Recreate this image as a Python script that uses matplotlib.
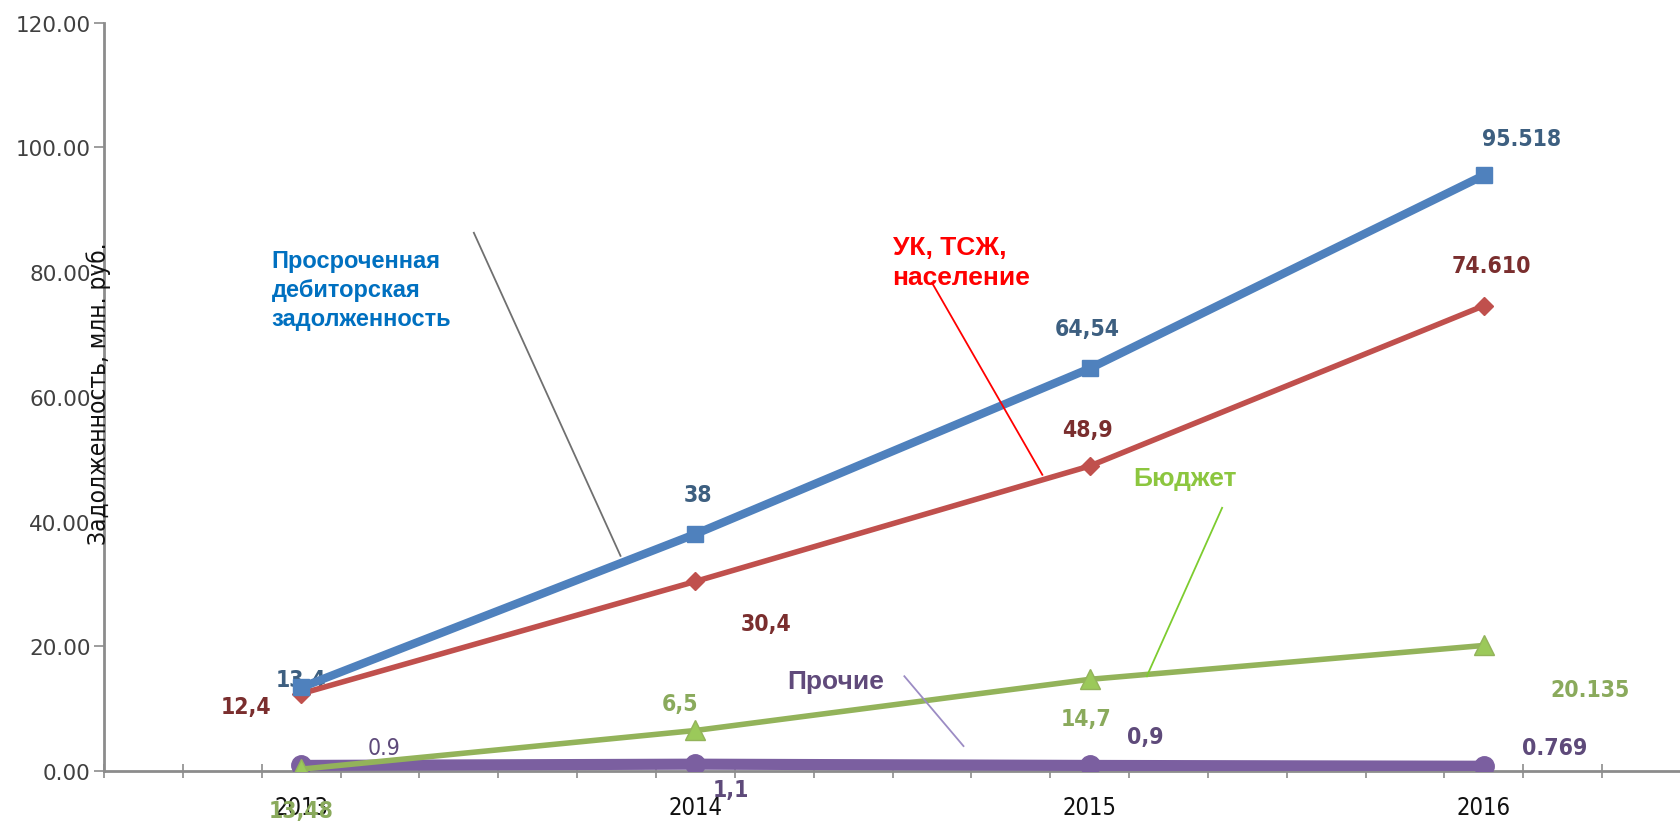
import matplotlib
matplotlib.use("Agg")
import matplotlib.pyplot as plt
from matplotlib import font_manager
import numpy as np

years = [2013, 2014, 2015, 2016]
overdue = [13.4, 38, 64.54, 95.518]      # Просроченная дебиторская задолженность
uk_tszh = [12.4, 30.4, 48.9, 74.610]     # УК, ТСЖ, население
budget = [0.3, 6.5, 14.7, 20.135]        # Бюджет
other = [0.9, 1.1, 0.9, 0.769]           # Прочие

overdue_lbl = ["13,4", "38", "64,54", "95.518"]
uk_lbl = ["12,4", "30,4", "48,9", "74.610"]
budget_lbl = ["13,48", "6,5", "14,7", "20.135"]
other_lbl = ["0.9", "1,1", "0,9", "0.769"]

yticks = [0, 20, 40, 60, 80, 100, 120]
ytick_labels = ["0.00", "20.00", "40.00", "60.00", "80.00", "100.00", "120.00"]

# pick a narrow font if one is there
fonts = font_manager.fontManager.ttflist
names = {f.name for f in fonts}
narrow_kw = dict(family=["DejaVu Sans"])
if "Liberation Sans Narrow" in names:
    narrow_kw = dict(family=["Liberation Sans Narrow", "DejaVu Sans"])
elif any(f.name == "DejaVu Sans" and "ondensed" in f.fname for f in fonts):
    narrow_kw = dict(family=["DejaVu Sans"], fontstretch="condensed")
elif "Roboto Condensed" in names:
    narrow_kw = dict(family=["Roboto Condensed", "DejaVu Sans"])
else:
    narrow_kw = dict(family=["Roboto", "DejaVu Sans"])

fig = plt.figure(figsize=(16.81, 8.28), dpi=100)
ax = fig.add_axes([0.0619, 0.0676, 0.9381, 0.9039])

ax.plot(years, other, color="#7b5fa0", lw=8, marker="o", ms=14, zorder=3)
ax.plot(years, budget, color="#93b35a", lw=4, marker="^", ms=14,
        markerfacecolor="#9bc95a", zorder=4)
ax.plot(years, uk_tszh, color="#c0504d", lw=4, marker="D", ms=9, zorder=5)
ax.plot(years, overdue, color="#4f81bd", lw=6, marker="s", ms=12, zorder=6)

# data labels (offsets)
lbl_kw = dict(fontsize=16.5, fontweight="bold", ha="center", va="center", **narrow_kw)
pos_overdue = [(2013.0, 14.6), (2014.007, 44.3), (2014.993, 70.9), (2016.096, 101.4)]
pos_uk = [(2012.86, 10.3), (2014.18, 23.6), (2014.995, 54.7), (2016.02, 81.0)]
pos_budget = [(2013.0, -6.3), (2013.96, 10.9), (2014.99, 8.5), (2016.27, 13.0)]
pos_other = [(2013.21, 3.8), (2014.09, -2.9), (2015.14, 5.5), (2016.18, 3.8)]
for t, (x, y) in zip(overdue_lbl, pos_overdue):
    ax.text(x, y, t, color="#3d5f80", **lbl_kw)
for t, (x, y) in zip(uk_lbl, pos_uk):
    ax.text(x, y, t, color="#7a2e2e", **lbl_kw)
for t, (x, y) in zip(budget_lbl, pos_budget):
    ax.text(x, y, t, color="#8aaa5c", clip_on=False, **lbl_kw)
for i, (t, (x, y)) in enumerate(zip(other_lbl, pos_other)):
    kw = dict(lbl_kw)
    if i == 0:
        kw["fontweight"] = "normal"
    ax.text(x, y, t, color="#5e4a7a", clip_on=False, **kw)

# series captions with leader lines
cap_kw = dict(fontweight="bold", family="Liberation Sans", ha="left", linespacing=1.32)
ax.text(2012.925, 83.7, "Просроченная\nдебиторская\nзадолженность", color="#0070c0",
        va="top", fontsize=17, **cap_kw)
ax.plot([2013.438, 2013.81], [86.3, 34.5], color="#707070", lw=1.3, zorder=7)

ax.text(2014.5, 86.0, "УК, ТСЖ,\nнаселение", color="#ff0000", va="top", fontsize=19,
        **cap_kw)
ax.plot([2014.60, 2014.88], [78.3, 47.5], color="#ff0000", lw=1.3, zorder=7)

ax.text(2015.11, 47.0, "Бюджет", color="#8cc63f", va="center", fontsize=19, **cap_kw)
ax.plot([2015.336, 2015.145], [42.2, 15.2], color="#7dcc2f", lw=1.3, zorder=7)

ax.text(2014.233, 14.4, "Прочие", color="#604a7b", va="center", fontsize=19, **cap_kw)
ax.plot([2014.53, 2014.68], [15.2, 4.0], color="#9c8cc4", lw=1.3, zorder=7)

# axes
ax.set_xlim(2012.5, 2016.5)
ax.set_ylim(0, 120)
for s in ["top", "right"]:
    ax.spines[s].set_visible(False)
for s in ["left", "bottom"]:
    ax.spines[s].set_color("#8c8c8c")
    ax.spines[s].set_linewidth(2)

ax.set_yticks(yticks)
ax.set_yticklabels(ytick_labels, fontsize=15.5, color="#404040", family="DejaVu Sans")
ax.tick_params(axis="y", length=7, width=1.2, color="#8c8c8c", pad=2.5)

ax.set_xticks(years)
ax.set_xticklabels([str(y) for y in years], fontsize=17, color="#111111", **narrow_kw)
ax.tick_params(axis="x", which="major", length=0, pad=17)
ax.set_xticks(np.arange(2012.5, 2016.51, 0.2), minor=True)
ax.tick_params(axis="x", which="minor", length=10, width=1.2, color="#8c8c8c",
               direction="inout")

ax.text(-0.0035, 0.505, "Задолженность, млн. руб.", transform=ax.transAxes, rotation=90,
        ha="center", va="center", fontsize=17.5, color="#111111", **narrow_kw)

fig.savefig("out.png", dpi=100)
